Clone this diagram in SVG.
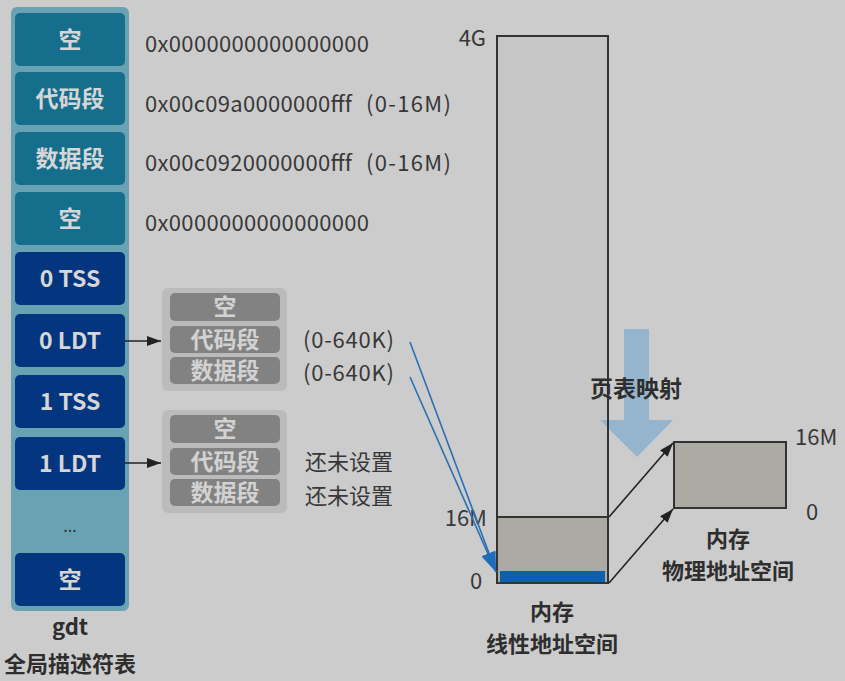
<svg xmlns="http://www.w3.org/2000/svg" width="845" height="681" viewBox="0 0 845 681">
<defs>
<style>
text{font-family:"Noto Sans CJK SC","Noto Sans",sans-serif;}
.bg{fill:#CCCCCC;}
.panel{fill:#69A2B3;}
.teal{fill:#156E8C;}
.navy{fill:#04357F;}
.bt{fill:#D6D6D6;font-size:23px;font-weight:bold;text-anchor:middle;}
.lp{fill:#BBBBBB;}
.li{fill:#828282;}
.lt{fill:#D2D2D2;font-size:23px;font-weight:bold;text-anchor:middle;}
.t{fill:#383838;font-size:22px;}
.tb{fill:#2E2E2E;font-size:22px;font-weight:bold;text-anchor:middle;}
.blk{stroke:#222;stroke-width:1.6;fill:none;}
.blu{stroke:#2A6FB5;stroke-width:1.6;fill:none;}
</style>
<marker id="ab" viewBox="0 0 14 10" refX="14" refY="5" markerWidth="14" markerHeight="10" markerUnits="userSpaceOnUse" orient="auto">
<path d="M0,0 L14,5 L0,10 Z" fill="#222"/>
</marker>
<marker id="au" viewBox="0 0 20 14" refX="20" refY="7" markerWidth="20" markerHeight="14" markerUnits="userSpaceOnUse" orient="auto">
<path d="M0,0 L20,7 L0,14 Z" fill="#1F6CB8"/>
</marker>
</defs>
<rect class="bg" x="0" y="0" width="845" height="681"/>

<g id="gdt">
<rect class="panel" x="11" y="7" width="118" height="604" rx="6"/>
<g id="gdt0"><rect class="teal" x="15" y="13" width="110" height="53" rx="5"/><text class="bt" x="70" y="48">空</text></g>
<g id="gdt1"><rect class="teal" x="15" y="72" width="110" height="53" rx="5"/><text class="bt" x="70" y="107">代码段</text></g>
<g id="gdt2"><rect class="teal" x="15" y="132" width="110" height="53" rx="5"/><text class="bt" x="70" y="167">数据段</text></g>
<g id="gdt3"><rect class="teal" x="15" y="192" width="110" height="53" rx="5"/><text class="bt" x="70" y="227">空</text></g>
<g id="gdt4"><rect class="navy" x="15" y="252" width="110" height="53" rx="5"/><text class="bt" x="70" y="287">0 TSS</text></g>
<g id="gdt5"><rect class="navy" x="15" y="314" width="110" height="53" rx="5"/><text class="bt" x="70" y="349">0 LDT</text></g>
<g id="gdt6"><rect class="navy" x="15" y="375" width="110" height="53" rx="5"/><text class="bt" x="70" y="410">1 TSS</text></g>
<g id="gdt7"><rect class="navy" x="15" y="437" width="110" height="53" rx="5"/><text class="bt" x="70" y="472">1 LDT</text></g>
<text x="70" y="532" fill="#333" font-size="16" text-anchor="middle">...</text>
<g id="gdt8"><rect class="navy" x="15" y="553" width="110" height="53" rx="5"/><text class="bt" x="70" y="588">空</text></g>
<text class="tb" x="70" y="635" font-size="24">gdt</text>
<text class="tb" x="70" y="672" font-size="24">全局描述符表</text>
</g>

<g id="hex">
<text class="t" x="145" y="52" textLength="224">0x0000000000000000</text>
<text class="t" x="145" y="112"><tspan textLength="207">0x00c09a0000000fff</tspan><tspan x="366" textLength="85">(0-16M)</tspan></text>
<text class="t" x="145" y="171"><tspan textLength="207">0x00c0920000000fff</tspan><tspan x="366" textLength="85">(0-16M)</tspan></text>
<text class="t" x="145" y="231" textLength="224">0x0000000000000000</text>
</g>

<g id="ldt0">
<rect class="lp" x="162" y="288" width="125" height="103" rx="6"/>
<rect class="li" x="170" y="293" width="110" height="28" rx="5"/><text class="lt" x="225" y="315">空</text>
<rect class="li" x="170" y="326" width="110" height="27" rx="5"/><text class="lt" x="225" y="348">代码段</text>
<rect class="li" x="170" y="357" width="110" height="27" rx="5"/><text class="lt" x="225" y="379">数据段</text>
<text class="t" x="303" y="348" textLength="91">(0-640K)</text>
<text class="t" x="303" y="381" textLength="91">(0-640K)</text>
</g>

<g id="ldt1">
<rect class="lp" x="162" y="410" width="125" height="103" rx="6"/>
<rect class="li" x="170" y="415" width="110" height="28" rx="5"/><text class="lt" x="225" y="437">空</text>
<rect class="li" x="170" y="448" width="110" height="27" rx="5"/><text class="lt" x="225" y="470">代码段</text>
<rect class="li" x="170" y="479" width="110" height="27" rx="5"/><text class="lt" x="225" y="501">数据段</text>
<text class="t" x="305" y="470">还未设置</text>
<text class="t" x="305" y="504">还未设置</text>
</g>

<g id="linear">
<rect x="497" y="36" width="111" height="481" fill="#C6C6C6" stroke="#333" stroke-width="2"/>
<rect x="497" y="517" width="111" height="66" fill="#ABABA3" stroke="#333" stroke-width="2"/>
<rect x="500" y="571" width="105" height="11" fill="#0F5FAF"/>
<text class="t" x="486" y="46" text-anchor="end">4G</text>
<text class="t" x="487" y="526" text-anchor="end">16M</text>
<text class="t" x="476" y="589" text-anchor="middle">0</text>
<text class="tb" x="552" y="620">内存</text>
<text class="tb" x="552" y="652">线性地址空间</text>
</g>

<g id="mapping">
<path d="M624,329 H649 V420 H673 L637,457 L600,420 H624 Z" fill="#95B5CF"/>
<line x1="608" y1="329" x2="608" y2="457" stroke="#333" stroke-width="2"/>
<text x="636" y="397" fill="#2E2E2E" font-size="23" font-weight="bold" text-anchor="middle">页表映射</text>
</g>

<g id="physical">
<rect x="674" y="442" width="112" height="66" fill="#ABABA3" stroke="#333" stroke-width="2"/>
<text class="t" x="795" y="445">16M</text>
<text class="t" x="812" y="520" text-anchor="middle">0</text>
<text class="tb" x="728" y="547">内存</text>
<text class="tb" x="728" y="579">物理地址空间</text>
</g>

<g id="connectors">
<line class="blk" x1="125" y1="341" x2="161" y2="341" marker-end="url(#ab)"/>
<line class="blk" x1="125" y1="463" x2="161" y2="463" marker-end="url(#ab)"/>
<line class="blu" x1="410" y1="342" x2="496" y2="572" marker-end="url(#au)"/>
<line class="blu" x1="410" y1="377" x2="496" y2="572" marker-end="url(#au)"/>
<line class="blk" x1="609" y1="517" x2="673" y2="443" marker-end="url(#ab)"/>
<line class="blk" x1="609" y1="583" x2="673" y2="509" marker-end="url(#ab)"/>
</g>
</svg>
